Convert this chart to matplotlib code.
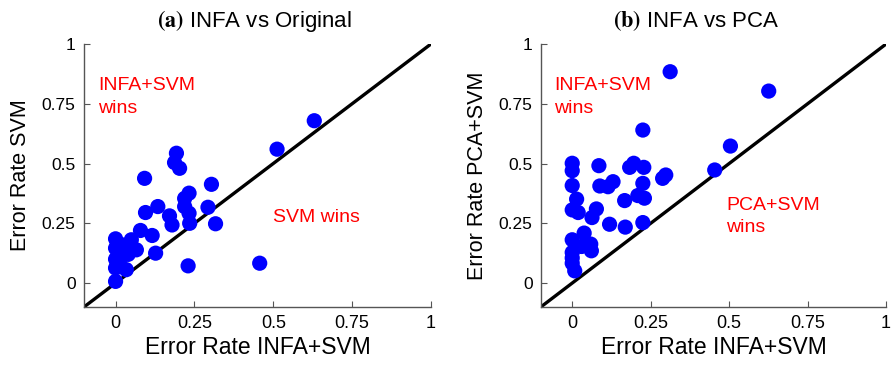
import matplotlib
matplotlib.use("Agg")
import matplotlib.pyplot as plt

plt.rcParams['font.family'] = ['Liberation Sans', 'DejaVu Sans']
plt.rcParams['mathtext.fontset'] = 'stix'

# Panel (a): INFA+SVM vs SVM
a_x = [0.63, 0.512, 0.193, 0.187, 0.203, 0.092, 0.304, 0.233, 0.219, 0.219, 0.293,
       0.134, 0.095, 0.233, 0.171, 0.179, 0.235, 0.317, 0.079, 0.116, 0.0, 0.05,
       0.066, 0.127, 0.0, 0.007, 0.029, 0.23, 0.457, 0.0, 0.034, 0.0, 0.0, 0.02,
       0.012, 0.04]
a_y = [0.679, 0.56, 0.543, 0.504, 0.48, 0.438, 0.413, 0.376, 0.354, 0.32, 0.317,
       0.32, 0.295, 0.292, 0.281, 0.243, 0.25, 0.248, 0.22, 0.199, 0.185, 0.181,
       0.139, 0.125, 0.146, 0.111, 0.132, 0.072, 0.083, 0.063, 0.056, 0.007, 0.1,
       0.16, 0.09, 0.12]

# Panel (b): INFA+SVM vs PCA+SVM
b_x = [0.312, 0.626, 0.225, 0.504, 0.454, 0.0, 0.0, 0.085, 0.196, 0.183, 0.228,
       0.298, 0.288, 0.0, 0.13, 0.088, 0.114, 0.225, 0.209, 0.23, 0.167, 0.014,
       0.0, 0.019, 0.077, 0.063, 0.119, 0.169, 0.225, 0.0, 0.038, 0.059, 0.061,
       0.0, 0.0, 0.0, 0.008, 0.03]
b_y = [0.884, 0.803, 0.64, 0.573, 0.473, 0.501, 0.47, 0.491, 0.501, 0.484, 0.484,
       0.452, 0.438, 0.408, 0.424, 0.406, 0.403, 0.417, 0.366, 0.355, 0.345, 0.351,
       0.306, 0.295, 0.31, 0.274, 0.246, 0.234, 0.253, 0.181, 0.209, 0.163, 0.135,
       0.128, 0.105, 0.083, 0.051, 0.153]

ticks = [0, 0.25, 0.5, 0.75, 1]
tick_labels = ['0', '0.25', '0.5', '0.75', '1']
diag = [-0.1, 1.0]

fig = plt.figure(figsize=(8.91, 3.65), dpi=100)
ax1 = fig.add_axes([0.0943, 0.159, 0.3894, 0.7205])
ax2 = fig.add_axes([0.607, 0.159, 0.3875, 0.7205])

panels = [
    (ax1, a_x, a_y, r'$\mathbf{(a)}$ INFA vs Original', 0.49, 'Error Rate SVM',
     [(-0.055, 0.86, 'INFA+SVM\nwins'), (0.5, 0.31, 'SVM wins')]),
    (ax2, b_x, b_y, r'$\mathbf{(b)}$ INFA vs PCA', 0.45, 'Error Rate PCA+SVM',
     [(-0.057, 0.86, 'INFA+SVM\nwins'), (0.49, 0.36, 'PCA+SVM\nwins')]),
]

for ax, xs, ys, title, tx_pos, ylabel, notes in panels:
    ax.plot(diag, diag, color='black', lw=2.4, zorder=2)
    ax.scatter(xs, ys, s=120, color='#0000ff', edgecolors='none', zorder=3, clip_on=False)
    ax.set_xlim(-0.1, 1.0)
    ax.set_ylim(-0.1, 1.0)
    ax.set_xticks(ticks)
    ax.set_xticklabels(tick_labels, fontsize=13)
    ax.set_yticks(ticks)
    ax.set_yticklabels(tick_labels, fontsize=12.5)
    ax.tick_params(direction='in', length=4, color='#555555', pad=6)
    for s in ['top', 'right']:
        ax.spines[s].set_visible(False)
    for s in ['left', 'bottom']:
        ax.spines[s].set_color('#555555')
        ax.spines[s].set_linewidth(1.0)
    ax.set_xlabel('Error Rate INFA+SVM', fontsize=16.5, labelpad=3)
    ax.set_ylabel(ylabel, fontsize=15.5, labelpad=8)
    ax.set_title(title, fontsize=16, pad=12, x=tx_pos)
    for tx, ty, txt in notes:
        ax.text(tx, ty, txt, color='#ff0000', fontsize=14, va='top', ha='left',
                linespacing=1.4)

fig.savefig('out.png', dpi=100)
